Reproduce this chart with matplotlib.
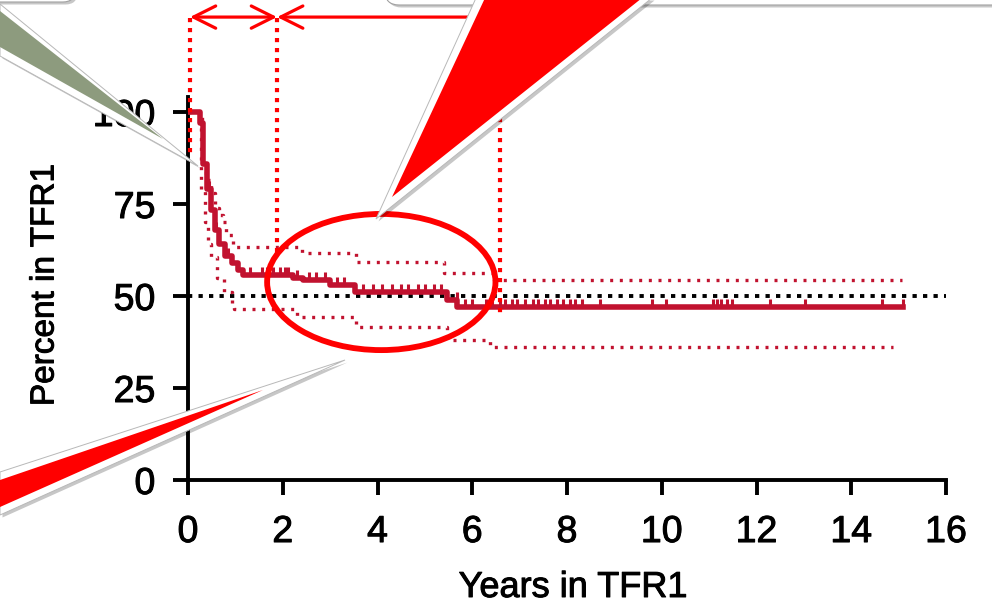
import numpy as np
import matplotlib
matplotlib.use("Agg")
import matplotlib.pyplot as plt
from matplotlib.patches import Polygon, Ellipse, FancyBboxPatch
import matplotlib.patheffects as pe

plt.rcParams['font.family'] = ['Liberation Sans', 'DejaVu Sans']

# Kaplan-Meier estimate, percent in TFR1
km_t = [0, 0.25, 0.32, 0.40, 0.49, 0.57, 0.65, 0.78, 0.93, 1.05, 1.16,
        2.22, 2.42, 3.00, 3.53, 5.47, 5.68]
km_s = [100, 97, 86, 79, 73.5, 68, 64, 61, 59, 57, 55.7,
        54.9, 54.3, 53.0, 51.1, 48.9, 47.0]
km_end = 15.1

# 95% confidence limits
up_t = [0, 0.30, 0.38, 0.48, 0.56, 0.66, 0.73, 0.81, 0.94, 2.40, 3.55, 5.40, 6.45]
up_s = [100, 87, 81.5, 78, 74, 72, 70, 66.6, 63.3, 61.7, 59.2, 56.2, 54.3]
up_end = 15.07
lo_t = [0, 0.28, 0.35, 0.42, 0.48, 0.62, 0.75, 0.93, 0.98, 2.30, 3.55, 5.47, 6.37]
lo_s = [100, 79, 70, 64, 60.6, 55, 51, 48, 46.5, 44.3, 41.5, 38.1, 36.1]
lo_end = 14.88

# censored observations
cens_t = [0.45, 0.60, 0.85, 1.30, 1.56, 1.67, 1.80, 1.94, 2.05, 2.11, 2.30,
          2.55, 2.70, 2.90, 3.15, 3.30, 3.70, 3.90, 4.10, 4.30, 4.50, 4.65,
          4.85, 5.00, 5.20, 5.35, 5.67, 5.85, 5.99, 6.30, 6.41, 6.59, 6.69,
          6.83, 6.94, 7.11, 7.29, 7.39, 7.53, 7.64, 7.78, 7.92, 8.06, 8.16,
          8.31, 8.70, 9.79, 10.10, 11.09, 11.16, 11.26, 11.37, 11.48, 12.28,
          13.02, 14.64, 15.10]

x_ticks = [0, 2, 4, 6, 8, 10, 12, 14, 16]
y_ticks = [0, 25, 50, 75, 100]

# annotation marks (years)
mark_x = [0.04, 1.88, 6.59]
mark_top = [125.5, 125.5, 98.4]
mark_bot = [88.9, 61.7, 44.8]
arrow_y = 125.8

km_col = '#C1122F'
red = '#FF0000'
bold = [pe.withStroke(linewidth=0.7, foreground='black')]


def extend(t, s, end):
    return list(t) + [end], list(s) + [s[-1]]


fig = plt.figure(figsize=(9.92, 6.06), dpi=100)
ax = fig.add_axes([188 / 992, 126 / 606, 758 / 992, 382.7 / 606])
ax.set_xlim(0, 16)
ax.set_ylim(0, 104)

ax.axhline(50, color='black', lw=2.8, linestyle=(0, (1.1, 1.6)), zorder=2)

tx, sx = extend(up_t, up_s, up_end)
ax.step(tx, sx, where='post', color=km_col, lw=2.4, linestyle=(0, (0.9, 2.0)), zorder=3)
tx, sx = extend(lo_t, lo_s, lo_end)
ax.step(tx, sx, where='post', color=km_col, lw=2.4, linestyle=(0, (0.9, 2.0)), zorder=3)
tx, sx = extend(km_t, km_s, km_end)
ax.step(tx, sx, where='post', color=km_col, lw=4.0, zorder=4)

idx = np.searchsorted(km_t, cens_t, side='right') - 1
cens_s = np.array(km_s)[idx]
ax.plot(cens_t, cens_s, linestyle='none', marker=[(0, 0), (0, 1)],
        markersize=12, markeredgewidth=2.2, color=km_col, zorder=4)

for sp in ['top', 'right']:
    ax.spines[sp].set_visible(False)
for sp in ['left', 'bottom']:
    ax.spines[sp].set_linewidth(2.8)
ax.set_xticks(x_ticks)
ax.set_yticks(y_ticks)
ax.tick_params(direction='out', length=10.5, width=2.8, labelsize=27)
ax.tick_params(axis='x', pad=14)
ax.tick_params(axis='y', pad=13)
for lab in ax.get_xticklabels() + ax.get_yticklabels():
    lab.set_path_effects(bold)

fig.text(573 / 992, 1 - 597 / 606, 'Years in TFR1', ha='center', va='baseline',
         fontsize=26, path_effects=bold)
fig.text(45 / 992, 1 - 285 / 606, 'Percent in TFR1', ha='center', va='center',
         rotation=90, fontsize=24, path_effects=bold)

# red dotted guides, arrows and ellipse
for xm, yt, yb in zip(mark_x, mark_top, mark_bot):
    ax.plot([xm, xm], [yt, yb], color=red, lw=3.0, linestyle=(0, (1.0, 1.4)),
            clip_on=False, zorder=6)
ax.annotate('', xy=(mark_x[0], arrow_y), xytext=(mark_x[1], arrow_y),
            arrowprops=dict(arrowstyle='<->', color=red, lw=2.3, mutation_scale=40,
                            shrinkA=0, shrinkB=0),
            annotation_clip=False, zorder=6)
ax.annotate('', xy=(mark_x[1], arrow_y), xytext=(6.4, arrow_y),
            arrowprops=dict(arrowstyle='->', color=red, lw=2.3, mutation_scale=40,
                            shrinkA=0, shrinkB=0),
            annotation_clip=False, zorder=6)
ax.add_patch(Ellipse((4.08, 53.8), 4.82, 37, fill=False, edgecolor=red, lw=4.2,
                     clip_on=False, zorder=6))

# callout tails drawn over the chart, in pixel coordinates
ov = fig.add_axes([0, 0, 1, 1])
ov.set_xlim(0, 992)
ov.set_ylim(606, 0)
ov.axis('off')
ov.patch.set_alpha(0)

shadow = [pe.withSimplePatchShadow(offset=(1.8, -1.8), shadow_rgbFace='black', alpha=0.22)]

body1 = FancyBboxPatch((-60, -80), 135, 82, boxstyle='round,pad=0,rounding_size=12',
                       facecolor='white', edgecolor='#a0a0a0', lw=0.8, path_effects=shadow)
ov.add_patch(body1)
body2 = FancyBboxPatch((385, -80), 700, 85, boxstyle='round,pad=0,rounding_size=14',
                       facecolor='white', edgecolor='#a0a0a0', lw=0.8, path_effects=shadow)
ov.add_patch(body2)

ov.add_patch(Polygon([(0, 4), (198, 166), (0, 56)], closed=True, facecolor='white',
                     edgecolor='#b8b8b8', lw=0.7, path_effects=shadow))
ov.add_patch(Polygon([(0, 11), (163, 139), (0, 47)], closed=True, facecolor='#8D9B7E',
                     edgecolor='none'))

ov.add_patch(Polygon([(476, -2), (652, -2), (376, 219)], closed=True, facecolor='white',
                     edgecolor='#b8b8b8', lw=0.7, path_effects=shadow))
ov.add_patch(Polygon([(485, -2), (642, -2), (392, 197)], closed=True, facecolor=red,
                     edgecolor='none'))

ov.add_patch(Polygon([(0, 472), (345, 360), (0, 515)], closed=True, facecolor='white',
                     edgecolor='#b8b8b8', lw=0.7, path_effects=shadow))
ov.add_patch(Polygon([(0, 480), (263, 390), (0, 507)], closed=True, facecolor=red,
                     edgecolor='none'))

fig.savefig('out.png', dpi=100)
